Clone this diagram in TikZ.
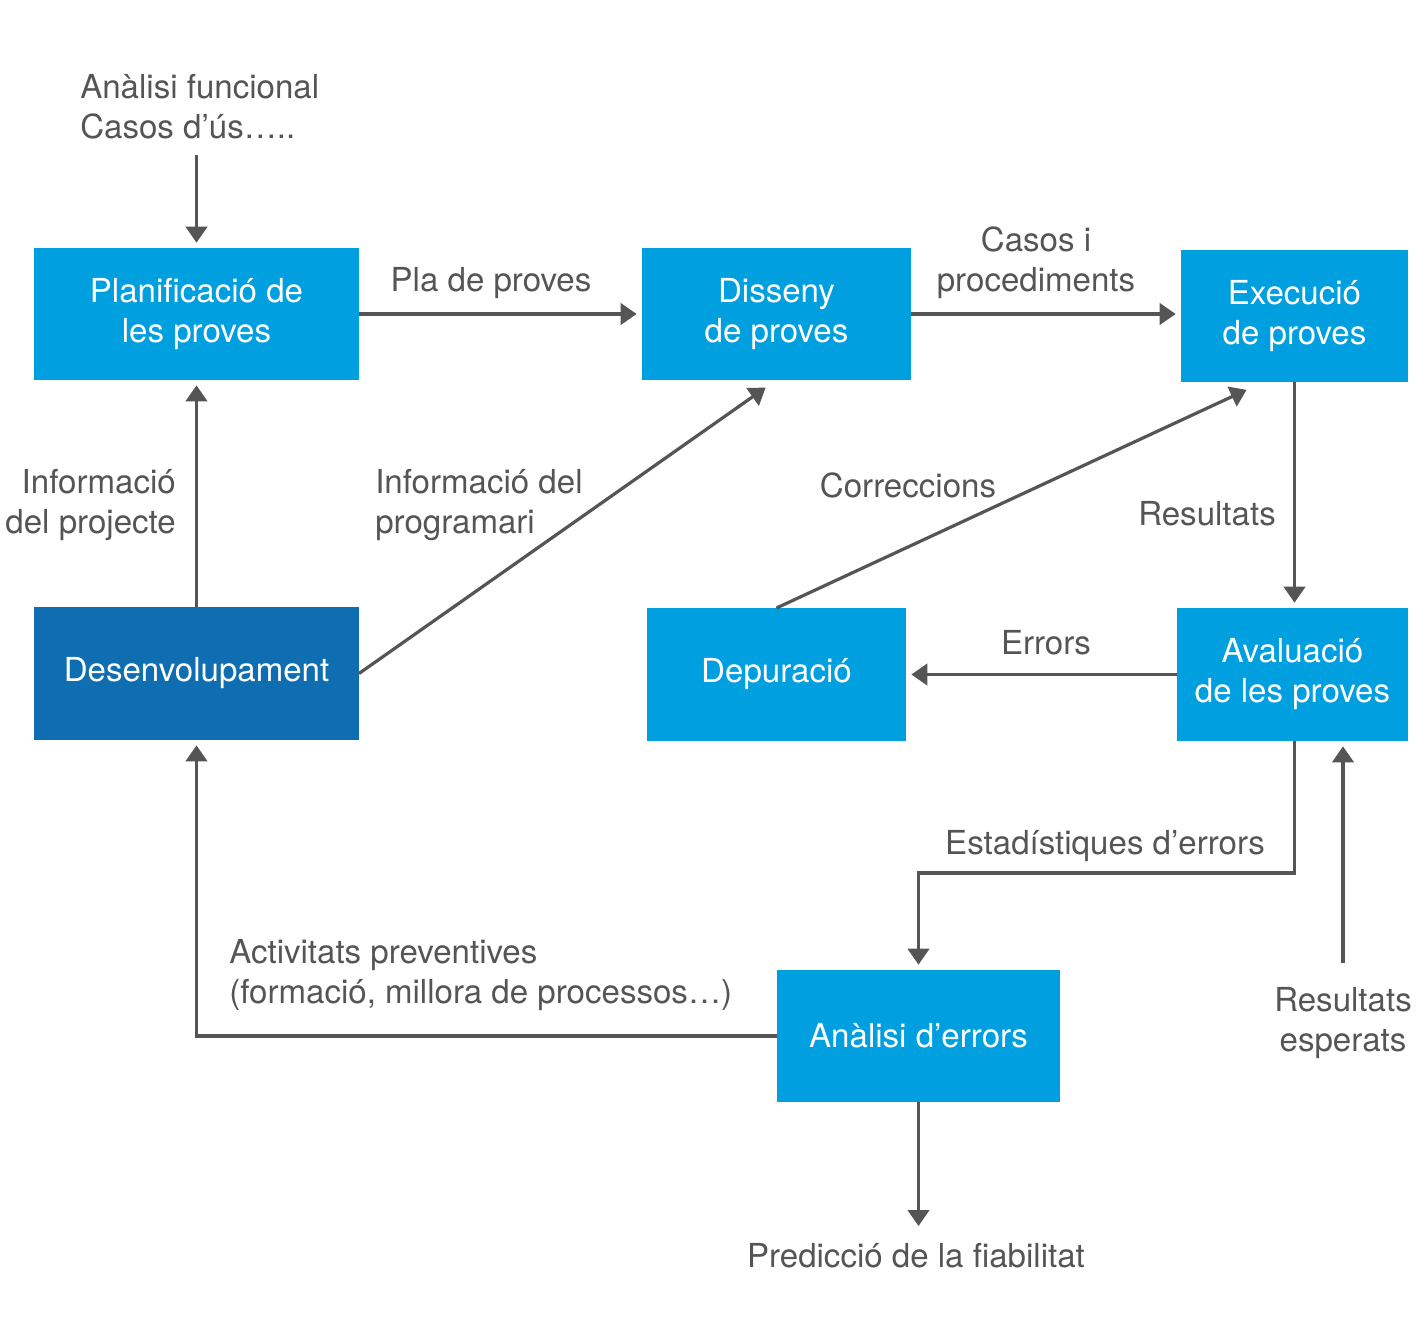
\documentclass[tikz,border=0pt]{standalone}
\usepackage{fontspec}
\setmainfont{TeX Gyre Heros}
\usetikzlibrary{arrows.meta}
\definecolor{boxblue}{RGB}{0,159,224}
\definecolor{devblue}{RGB}{15,110,177}
\definecolor{linegray}{RGB}{85,85,85}
\tikzset{
  stagebox/.style={fill=boxblue, text=white, align=center, inner sep=0pt, outer sep=0pt,
    minimum height=99pt, font=\fontsize{24.8}{30}\selectfont},
  labeltext/.style={text=linegray, inner sep=0pt, font=\fontsize{24.8}{30}\selectfont},
  flow/.style={draw=linegray, line width=2.4pt, -{Triangle[length=12pt,width=16pt]}, shorten >=4pt},
  flowline/.style={draw=linegray, line width=2.4pt}
}
\begin{document}
\begin{tikzpicture}[x=0.75pt,y=0.75pt,yscale=-1,xscale=1]
        \useasboundingbox (0,0) rectangle (1417,1328);

        % Boxes
        \node [stagebox, minimum width=243.75pt] (plan) at (196.5,314) {Planificació de\\les proves};
        \node [stagebox, minimum width=201.75pt] (dis) at (776.5,314) {Disseny\\de proves};
        \node [stagebox, minimum width=170.25pt] (exe) at (1294.5,316) {Execució\\de proves};
        \node [stagebox, minimum width=243.75pt, fill=devblue, minimum height=99.75pt] (dev) at (196.5,673.5) {Desenvolupament};
        \node [stagebox, minimum width=194.25pt, minimum height=99.75pt] (dep) at (776.5,674.5) {Depuració};
        \node [stagebox, minimum width=173.25pt, minimum height=99.75pt] (ava) at (1292.5,674.5) {Avaluació\\de les proves};
        \node [stagebox, minimum width=212.25pt] (err) at (918.5,1036) {Anàlisi d’errors};

        % Text Node
        \node [labeltext, anchor=west, align=left] (fun) at (80,107) {Anàlisi funcional\\Casos d’ús\dots..};
        \node [labeltext] (pla) at (491,283) {Pla de proves};
        \node [labeltext, align=center] (cas) at (1036,263) {Casos i\\procediments};
        \node [labeltext, anchor=east, align=right] (ipr) at (176,505) {Informació\\del projecte};
        \node [labeltext, anchor=west, align=left] (ipg) at (375,505) {Informació del\\programari};
        \node [labeltext] (cor) at (908,485) {Correccions};
        \node [labeltext] (res) at (1207,514) {Resultats};
        \node [labeltext] (ers) at (1046,643) {Errors};
        \node [labeltext] (est) at (1105,846) {Estadístiques d’errors};
        \node [labeltext, align=center] (esp) at (1343,1023) {Resultats\\esperats};
        \node [labeltext, anchor=west, align=left] (act) at (229,975) {Activitats preventives\\(formació, millora de processos\dots)};
        \node [labeltext] (pre) at (916,1256) {Predicció de la fiabilitat};

        % Coordinates
        \coordinate (funend) at (196.5,155);
        \coordinate (espend) at (1343,963);
        \coordinate (preend) at (918.5,1226);

        %Straight Lines
        \draw [flow] (funend) -- (plan.north);
        \draw [flow] (plan.east) -- (dis.west);
        \draw [flow] (dis.east) -- (exe.west |- dis.east);
        \draw [flow] (dev.north) -- (plan.south);
        \draw [flow, shorten >=10pt] (dev.east) -- (dis.south);
        \draw [flow, shorten >=14pt] (dep.north) -- ([xshift=-23.25pt]exe.south);
        \draw [flow] (exe.south) -- (exe.south |- ava.north);
        \draw [flow] (ava.west |- dep.east) -- (dep.east);
        \draw [flow] (exe.south |- ava.south) -- (1294.5,873) -- (err.north |- 0,873) -- (err.north);
        \draw [flow] (espend) -- (espend |- ava.south);
        \draw [flow] (err.west) -- (dev.south |- err.west) -- (dev.south);
        \draw [flow, shorten >=0pt] (err.south) -- (preend);

\end{tikzpicture}
\end{document}
